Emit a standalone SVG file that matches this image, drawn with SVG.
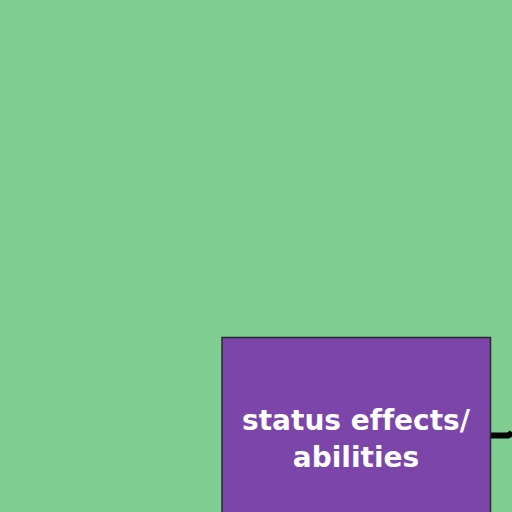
<svg xmlns="http://www.w3.org/2000/svg" width="512" height="512" viewBox="0 0 512 512">
<style>
.node{fill:#7b45a9;stroke:#2a2a2a;stroke-width:1.5}
.lbl{font-family:"DejaVu Sans",Lato,sans-serif;font-weight:bold;font-size:28px;fill:#ffffff;text-anchor:middle;font-variant-ligatures:none}
.edge{stroke:#000;stroke-width:6;fill:none}
</style>
<rect x="0" y="0" width="512" height="512" fill="#80ce91"/>
<g id="connectors">
<path class="edge" d="M491 435.5 L507 435.5 Q510 435.5 512 432"/>
</g>
<g id="node-status">
<rect class="node" x="222" y="337.5" width="268.5" height="190"/>
<text class="lbl" x="356" y="430">status effects/</text>
<text class="lbl" x="356" y="467">abilities</text>
</g>
</svg>
